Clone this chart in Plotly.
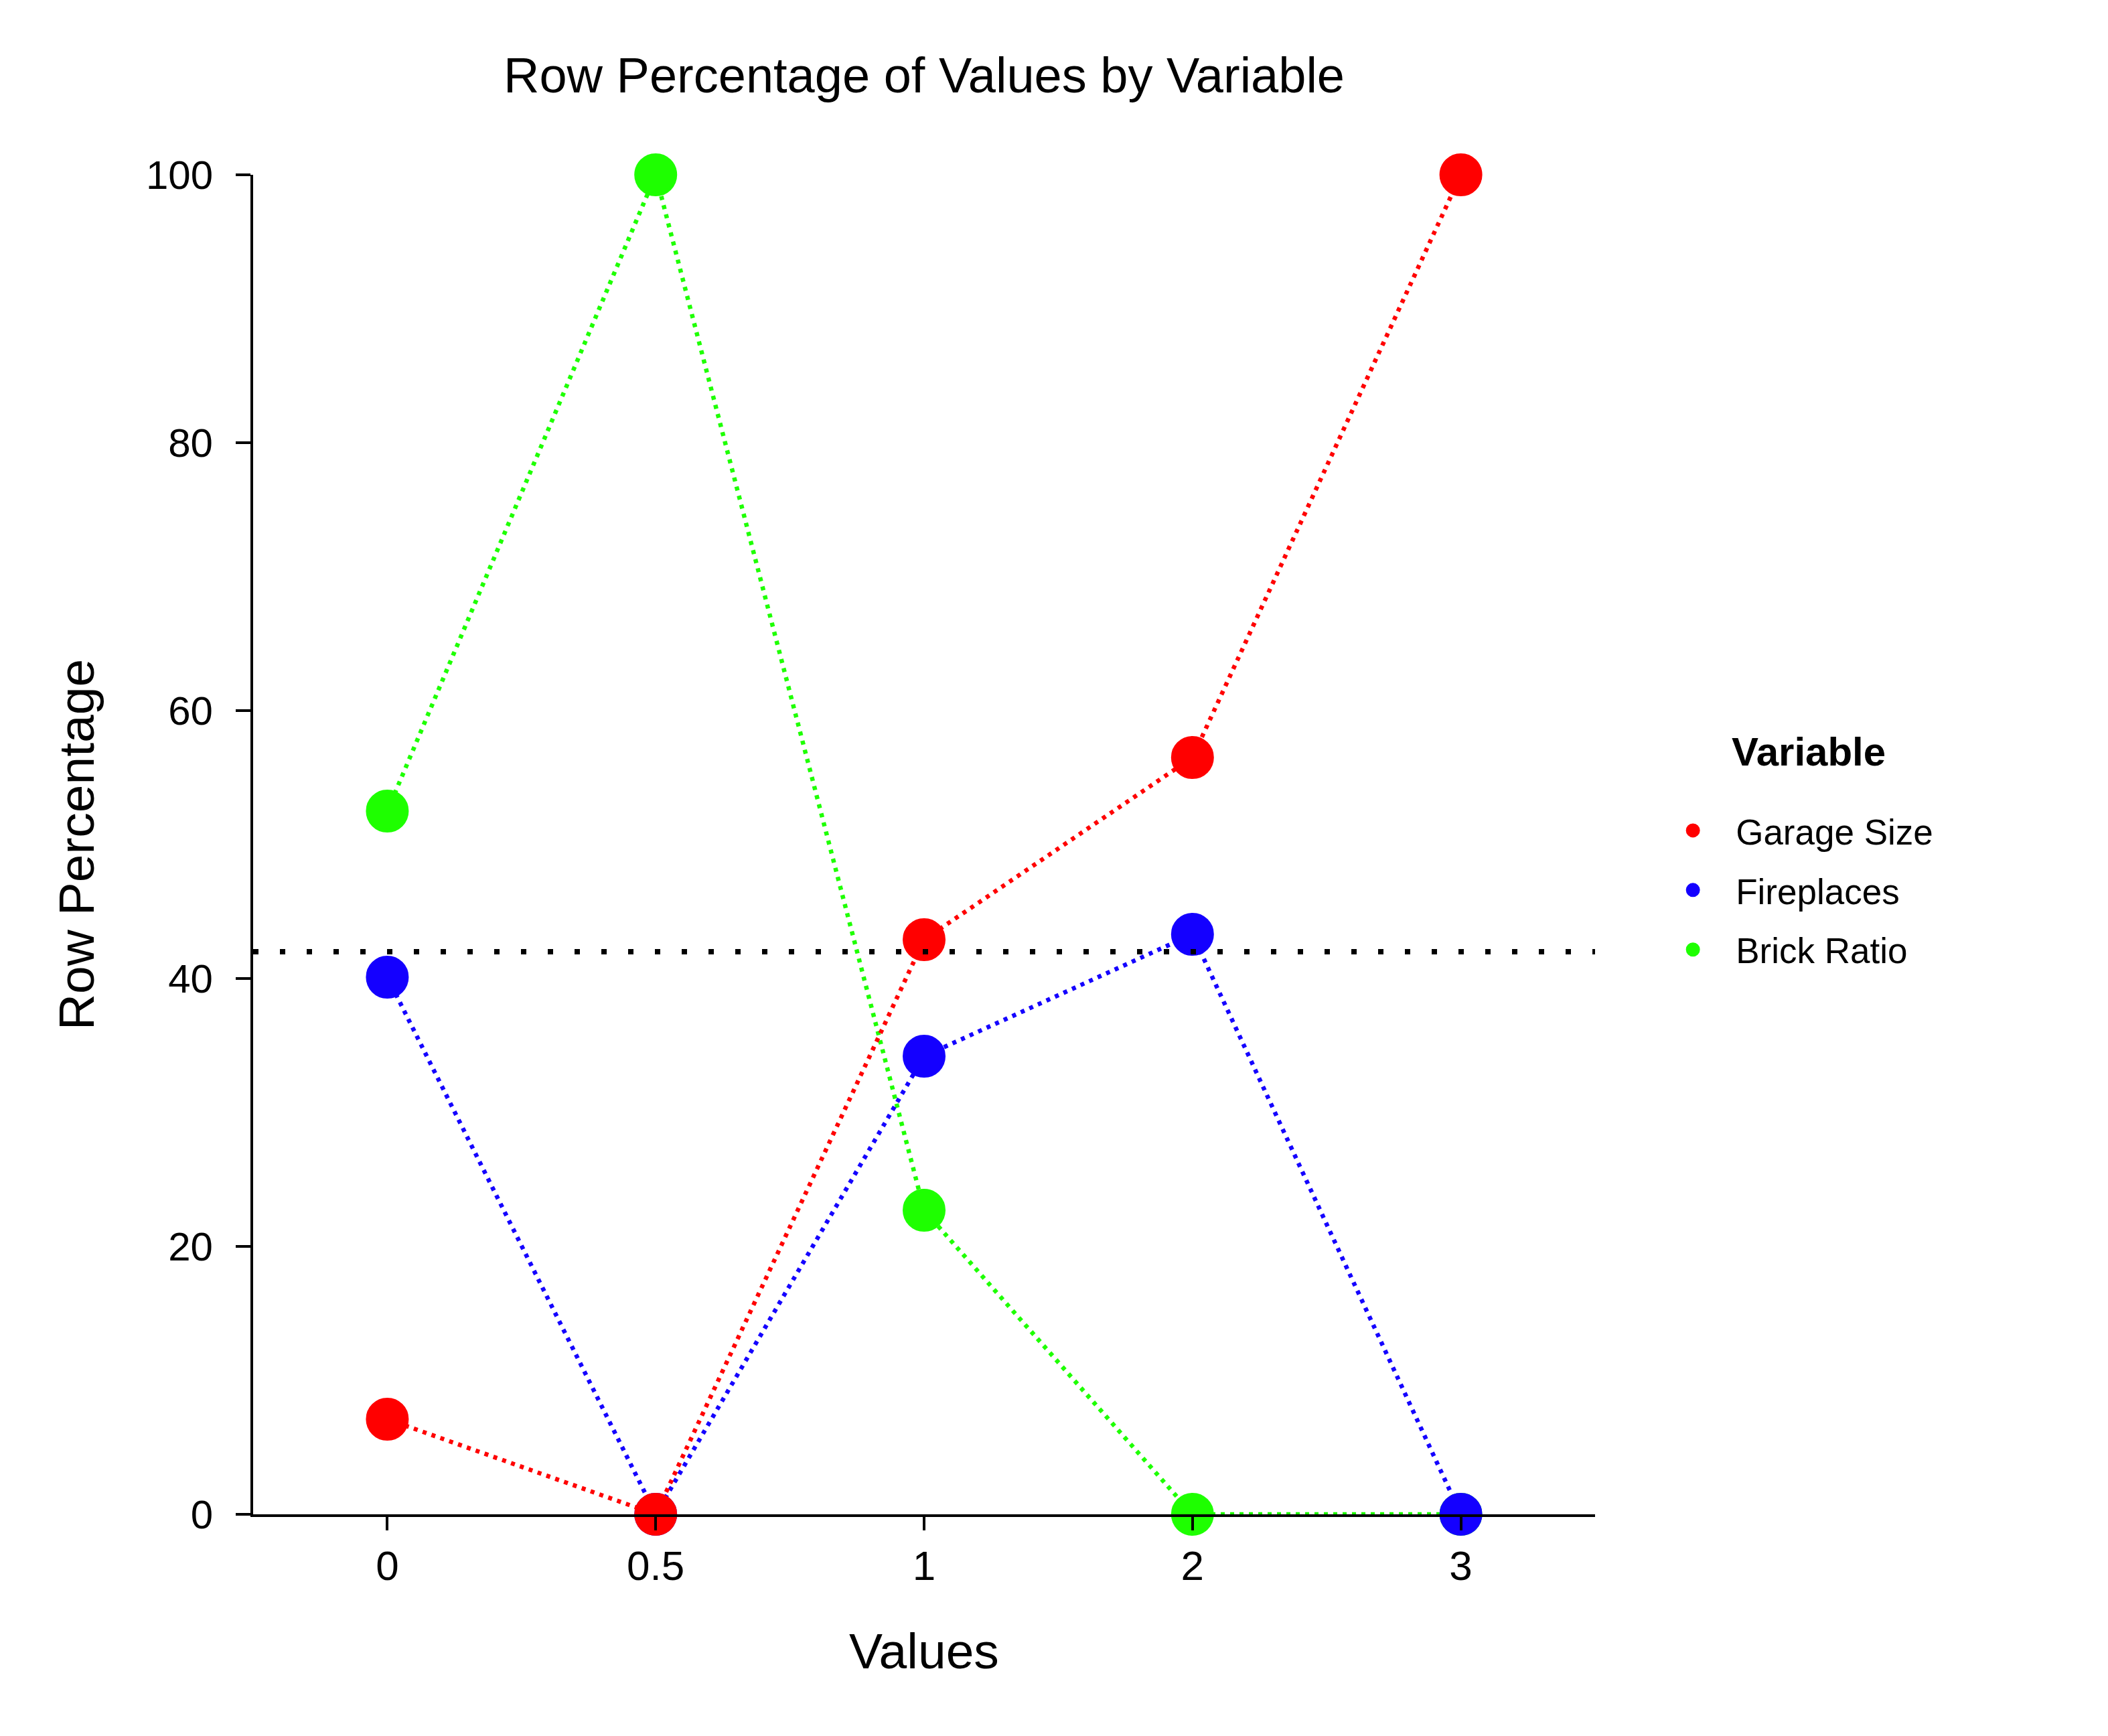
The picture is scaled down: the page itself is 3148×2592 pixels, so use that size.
import plotly.graph_objects as go

# ---- data ----
value_labels = ["0", "0.5", "1", "2", "3"]
garage_size = [7.1, 0.0, 42.9, 56.5, 100.0]
fireplaces = [40.1, 0.0, 34.2, 43.3, 0.0]
brick_ratio = [52.5, 100.0, 22.7, 0.0, 0.0]
reference_level = 42.0
y_ticks = [0, 20, 40, 60, 80, 100]

series = [
    # drawn first -> bottom
    ("Brick Ratio", brick_ratio, "#1EFF00", 3),
    ("Fireplaces", fireplaces, "#1400FF", 2),
    ("Garage Size", garage_size, "#FF0000", 1),
]

FONT = "Liberation Sans, Arial, sans-serif"

fig = go.Figure()
for name, vals, color, rank in series:
    fig.add_trace(go.Scatter(
        x=value_labels, y=vals, name=name, mode="lines",
        line=dict(color=color, width=6.5, dash="6px,8px"),
        cliponaxis=False, showlegend=False, legendgroup=name,
    ))
    fig.add_trace(go.Scatter(
        x=value_labels, y=vals, name=name, mode="markers",
        marker=dict(color=color, size=59, line=dict(width=5, color=color)),
        cliponaxis=False, legendrank=rank, legendgroup=name,
    ))

fig.add_hline(y=reference_level, line=dict(color="black", width=8, dash="8px,32px"))

W, H = 3148, 2592
fig.update_layout(
    width=W, height=H,
    margin=dict(l=370, r=774, t=253, b=339, pad=0),
    paper_bgcolor="white", plot_bgcolor="white",
    font=dict(family=FONT, color="black", size=62),
    title=dict(text="Row Percentage of Values by Variable", x=0.5, xanchor="center",
               xref="paper", y=1 - 104 / H, yref="container", yanchor="middle",
               font=dict(size=74, family=FONT)),
    legend=dict(
        font=dict(size=53, family=FONT),
        x=1.041, xanchor="left", y=0.531, yanchor="top",
        itemwidth=118, bgcolor="rgba(0,0,0,0)", borderwidth=0,
        tracegroupgap=17,
    ),
    showlegend=True,
    annotations=[dict(
        text="<b>Variable</b>", xref="paper", yref="paper",
        x=1.1008, y=0.5695, xanchor="left", yanchor="middle",
        showarrow=False, font=dict(size=60, family=FONT, color="black"),
    )],
)
fig.update_xaxes(
    type="category", range=[-0.5, 4.5], showgrid=False, zeroline=False,
    showline=True, linecolor="black", linewidth=4,
    ticks="outside", ticklen=20, tickwidth=4, tickcolor="black",
    tickfont=dict(size=62), ticklabelstandoff=0,
    title=dict(text="Values", font=dict(size=75), standoff=68),
)
fig.update_yaxes(
    range=[0, 100], tickvals=y_ticks, showgrid=False, zeroline=False,
    showline=True, linecolor="black", linewidth=4,
    ticks="outside", ticklen=22, tickwidth=4, tickcolor="black",
    tickfont=dict(size=60), ticklabelstandoff=22,
    title=dict(text="Row Percentage", font=dict(size=75), standoff=54),
)

fig.write_html("out.html")
